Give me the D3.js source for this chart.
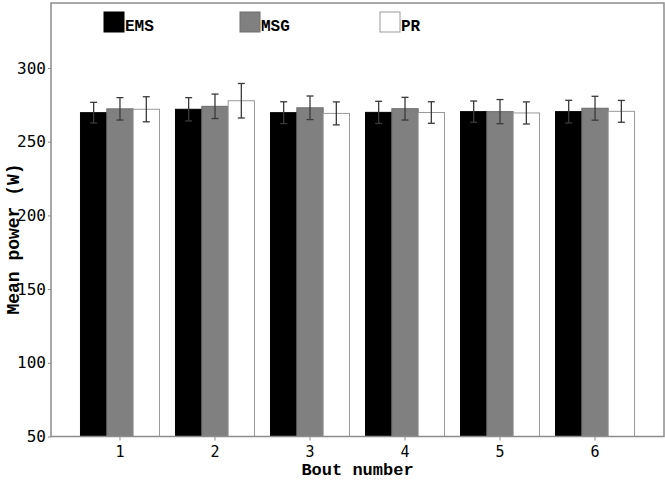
<!DOCTYPE html>
<html>
<head>
<script src="https://d3js.org/d3.v7.min.js"></script>
<style>
body { margin: 0; background: #fff; }
</style>
</head>
<body>
<svg width="665" height="480"></svg>
<script>
// Data
var bouts = ["1", "2", "3", "4", "5", "6"];
var groups = ["EMS", "MSG", "PR"];
var emsMean = [269.7, 272.0, 269.7, 269.9, 270.4, 270.4];
var msgMean = [272.3, 274.0, 273.0, 272.4, 270.4, 272.7];
var prMean  = [272.0, 277.8, 269.2, 269.8, 269.5, 270.6];
var emsErr = [7.0, 7.9, 7.4, 7.5, 7.2, 7.7];
var msgErr = [7.6, 8.3, 8.0, 7.7, 8.2, 8.1];
var prErr  = [8.5, 11.7, 7.8, 7.3, 7.5, 7.4];
var yTicks = [50, 100, 150, 200, 250, 300];

var colors = d3.scaleOrdinal().domain(groups).range(["#000000", "#808080", "#ffffff"]);
var strokes = d3.scaleOrdinal().domain(groups).range(["#000000", "#6e6e6e", "#9a9a9a"]);

var rows = [];
bouts.forEach(function(b, i) {
  rows.push({bout: b, group: "EMS", mean: emsMean[i], err: emsErr[i]});
  rows.push({bout: b, group: "MSG", mean: msgMean[i], err: msgErr[i]});
  rows.push({bout: b, group: "PR", mean: prMean[i], err: prErr[i]});
});

var svg = d3.select("svg");
// plot area (note: "top" is taken by window.top, so use other names)
var plotL = 51, plotR = 664, plotT = 3, plotB = 436.5;

// scales
var x0 = d3.scaleBand().domain(bouts).range([plotL, plotR]).paddingInner(0).paddingOuter(0.226);
var x1 = d3.scaleBand().domain(groups).range([8, x0.bandwidth() - 8]);
var y = d3.scaleLinear().domain([50, 50 + (plotB - plotT) / 1.474]).range([plotB, plotT]);

// bars
svg.append("g").selectAll("rect").data(rows).enter().append("rect")
  .attr("x", function(d) { return x0(d.bout) + x1(d.group); })
  .attr("y", function(d) { return y(d.mean); })
  .attr("width", x1.bandwidth())
  .attr("height", function(d) { return y(50) - y(d.mean); })
  .attr("fill", function(d) { return colors(d.group); })
  .attr("stroke", function(d) { return strokes(d.group); })
  .attr("stroke-width", 1);

// error bars
var eb = svg.append("g").attr("stroke", "#3a3a3a").attr("stroke-width", 1.3);
rows.forEach(function(d) {
  var cx = x0(d.bout) + x1(d.group) + x1.bandwidth() / 2;
  eb.append("line").attr("x1", cx).attr("x2", cx)
    .attr("y1", y(d.mean - d.err)).attr("y2", y(d.mean + d.err));
  eb.append("line").attr("x1", cx - 3.5).attr("x2", cx + 3.5)
    .attr("y1", y(d.mean + d.err)).attr("y2", y(d.mean + d.err));
  eb.append("line").attr("x1", cx - 3.5).attr("x2", cx + 3.5)
    .attr("y1", y(d.mean - d.err)).attr("y2", y(d.mean - d.err));
});

// frame
svg.append("rect")
  .attr("x", plotL).attr("y", plotT)
  .attr("width", plotR - plotL).attr("height", plotB - plotT)
  .attr("fill", "none").attr("stroke", "#8c8c8c").attr("stroke-width", 1.5);

// y axis
var yAxis = svg.append("g")
  .attr("transform", "translate(" + plotL + ",0)")
  .call(d3.axisLeft(y).tickValues(yTicks).tickSize(3).tickPadding(2));
yAxis.select(".domain").remove();
yAxis.selectAll(".tick line").attr("stroke", "#8c8c8c");
yAxis.selectAll("text")
  .attr("fill", "#000")
  .style("font-family", "'DejaVu Sans Mono', monospace")
  .style("font-size", "16px");

// x axis
var xAxis = svg.append("g")
  .attr("transform", "translate(0," + plotB + ")")
  .call(d3.axisBottom(x0).tickSize(4).tickPadding(6));
xAxis.select(".domain").remove();
xAxis.selectAll(".tick line").attr("stroke", "#8c8c8c");
xAxis.selectAll("text")
  .attr("fill", "#000")
  .style("font-family", "'DejaVu Sans Mono', monospace")
  .style("font-size", "15px");

// axis titles
svg.append("text")
  .attr("x", (plotL + plotR) / 2).attr("y", 475)
  .attr("text-anchor", "middle")
  .style("font-family", "'Liberation Mono', monospace")
  .style("font-weight", "bold")
  .style("font-size", "17px")
  .text("Bout number");

svg.append("text")
  .attr("transform", "translate(19,239)rotate(-90)")
  .attr("text-anchor", "middle")
  .style("font-family", "'Liberation Mono', monospace")
  .style("font-weight", "bold")
  .style("font-size", "18px")
  .text("Mean power (W)");

// legend
var legendX = [104, 240, 380];
var lg = svg.append("g").selectAll("g").data(groups).enter().append("g")
  .attr("transform", function(d, i) { return "translate(" + legendX[i] + ",12)"; });
lg.append("rect")
  .attr("width", 20).attr("height", 20)
  .attr("fill", function(d) { return colors(d); })
  .attr("stroke", function(d) { return strokes(d); });
lg.append("text")
  .attr("x", 21).attr("y", 19)
  .style("font-family", "'Liberation Mono', monospace")
  .style("font-weight", "bold")
  .style("font-size", "16px")
  .text(function(d) { return d; });
</script>
</body>
</html>
